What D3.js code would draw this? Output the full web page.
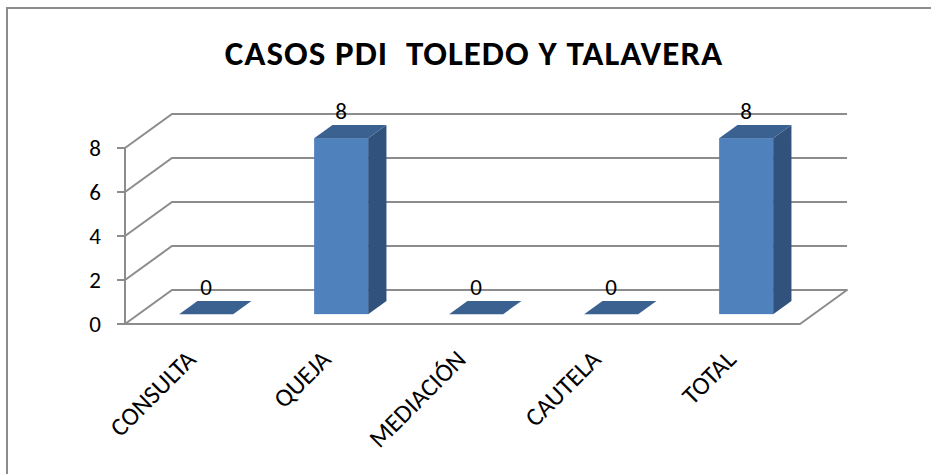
<!DOCTYPE html>
<html>
<head>
<meta charset="utf-8">
<script src="https://cdn.jsdelivr.net/npm/d3@7"></script>
<style>
  body { margin: 0; background: #fff; }
  text { font-family: Carlito, Calibri, Lato, "Open Sans", sans-serif; fill: #000; }
</style>
</head>
<body>
<div id="chart"></div>
<script>
const categories = ["CONSULTA", "QUEJA", "MEDIACIÓN", "CAUTELA", "TOTAL"];
const values = [0, 8, 0, 0, 8];
const yTicks = [0, 2, 4, 6, 8];
const title = "CASOS PDI  TOLEDO Y TALAVERA";

const width = 931, height = 474;

// front plane of the 3D box, plus the depth offset to the back wall
const plotLeft = 125, plotRight = 800, plotBottom = 324, plotTop = 148;
const depth = { dx: 47, dy: -34 };
const barFront = 0.29, barBack = 0.68;   // bar position inside the depth

const svg = d3.select("#chart").append("svg")
    .attr("width", width)
    .attr("height", height);

svg.append("rect")
    .attr("x", 7).attr("y", 8)
    .attr("width", 940).attr("height", 480)
    .attr("fill", "#fff")
    .attr("stroke", "#8c8c8c")
    .attr("stroke-width", 2);

svg.append("text")
    .attr("x", 474)
    .attr("y", 65)
    .attr("text-anchor", "middle")
    .style("font-size", "35px")
    .style("font-weight", "bold")
    .style("letter-spacing", "1px")
    .style("white-space", "pre")
    .text(title);

const x = d3.scaleBand()
    .domain(categories)
    .range([plotLeft, plotRight])
    .paddingInner(0.6)
    .paddingOuter(0.3);

const y = d3.scaleLinear()
    .domain([0, 8])
    .range([plotBottom, plotTop]);

const grid = "#8c8c8c";

// floor
svg.append("path")
    .attr("d", `M${plotLeft},${plotBottom} L${plotRight},${plotBottom} L${plotRight + depth.dx},${plotBottom + depth.dy} L${plotLeft + depth.dx},${plotBottom + depth.dy}`)
    .attr("fill", "#fff")
    .attr("stroke", grid)
    .attr("stroke-width", 2)
    .attr("stroke-linejoin", "round");

// side wall diagonals + back wall gridlines
yTicks.forEach(function(t) {
  const yy = y(t);
  svg.append("path")
      .attr("d", `M${plotLeft},${yy} L${plotLeft + depth.dx},${yy + depth.dy} L${plotRight + depth.dx},${yy + depth.dy}`)
      .attr("fill", "none")
      .attr("stroke", grid)
      .attr("stroke-width", 2);
});

// value axis on the front edge
const yAxis = svg.append("g");
yAxis.append("line")
    .attr("x1", plotLeft).attr("x2", plotLeft)
    .attr("y1", y(8)).attr("y2", y(0))
    .attr("stroke", grid).attr("stroke-width", 2);

yAxis.selectAll("line.tick")
    .data(yTicks)
    .enter().append("line")
    .attr("class", "tick")
    .attr("x1", plotLeft - 8).attr("x2", plotLeft)
    .attr("y1", d => y(d)).attr("y2", d => y(d))
    .attr("stroke", grid).attr("stroke-width", 2);

yAxis.selectAll("text")
    .data(yTicks)
    .enter().append("text")
    .attr("x", 101)
    .attr("y", d => y(d))
    .attr("dy", "0.35em")
    .attr("text-anchor", "end")
    .style("font-size", "23px")
    .text(d => d);

// bars
const data = categories.map((c, i) => ({ cat: c, value: values[i] }));
const bw = x.bandwidth();
const fdx = depth.dx * barFront, fdy = depth.dy * barFront;
const bdx = depth.dx * barBack, bdy = depth.dy * barBack;

const bars = svg.selectAll("g.bar")
    .data(data)
    .enter().append("g")
    .attr("class", "bar");

bars.each(function(d) {
  const g = d3.select(this);
  const x0 = x(d.cat) + fdx, x1 = x0 + bw;
  const yb = y(0) + fdy, yt = y(d.value) + fdy;
  const ox = bdx - fdx, oy = bdy - fdy;

  if (d.value > 0) {
    g.append("path")
        .attr("d", `M${x1},${yb} L${x1 + ox},${yb + oy} L${x1 + ox},${yt + oy} L${x1},${yt}Z`)
        .attr("fill", "#30527c");
    g.append("rect")
        .attr("x", x0).attr("y", yt)
        .attr("width", bw).attr("height", yb - yt)
        .attr("fill", "#4f81bd");
  }
  g.append("path")
      .attr("d", `M${x0},${yt} L${x1},${yt} L${x1 + ox},${yt + oy} L${x0 + ox},${yt + oy}Z`)
      .attr("fill", "#3b6191");

  g.append("text")
      .attr("x", x(d.cat) + fdx + bw / 2)
      .attr("y", y(d.value) + bdy - 6)
      .attr("text-anchor", "middle")
      .style("font-size", "23px")
      .text(d.value);
});

// category labels
svg.selectAll("text.cat")
    .data(categories)
    .enter().append("text")
    .attr("class", "cat")
    .attr("text-anchor", "end")
    .attr("transform", d => `translate(${x(d) + bw / 2 + 5},361) rotate(-45)`)
    .style("font-size", "25.5px")
    .text(d => d);
</script>
</body>
</html>
